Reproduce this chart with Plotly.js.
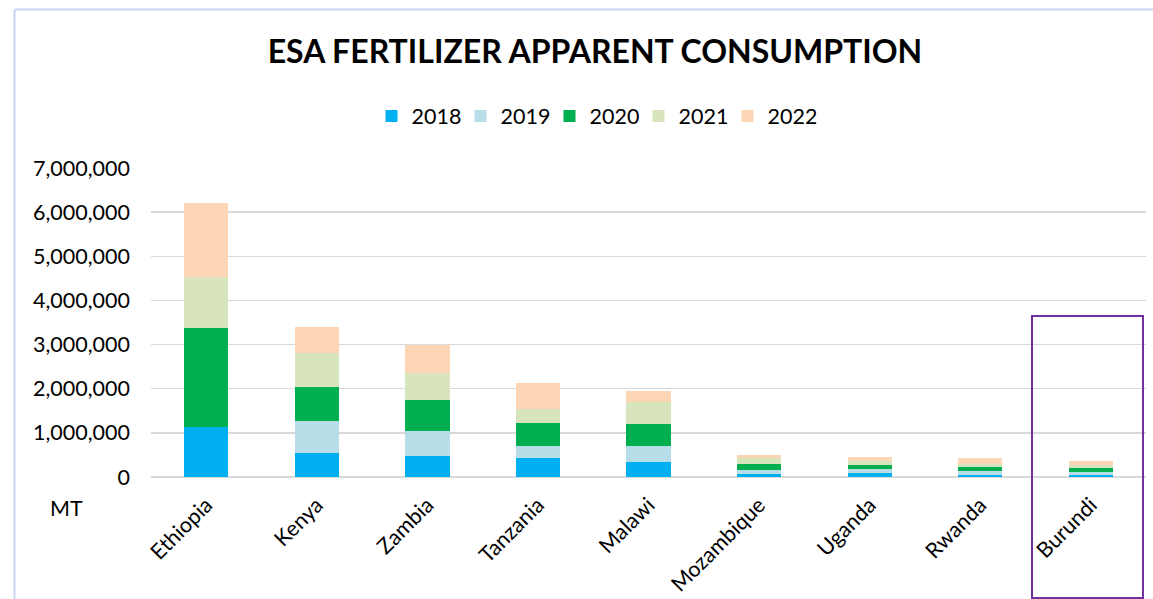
<!DOCTYPE html>
<html>
<head>
<meta charset="utf-8">
<script src="https://cdn.plot.ly/plotly-3.0.1.min.js"></script>
<style>html,body{margin:0;padding:0;background:#fff;}#chart{width:1153px;height:599px;}</style>
</head>
<body>
<div id="chart"></div>
<script>
const countries = ['Ethiopia','Kenya','Zambia','Tanzania','Malawi','Mozambique','Uganda','Rwanda','Burundi'];
const years = ['2018','2019','2020','2021','2022'];
const y2018 = [1130000, 550000, 470000, 440000, 340000, 76000, 91000, 53000, 53000];
const y2019 = [0, 720000, 580000, 260000, 360000, 75000, 90000, 83000, 60000];
const y2020 = [2250000, 780000, 690000, 520000, 510000, 136000, 91000, 98000, 91000];
const y2021 = [1140000, 750000, 610000, 330000, 490000, 136000, 98000, 61000, 68000];
const y2022 = [1690000, 590000, 630000, 580000, 250000, 76000, 84000, 136000, 83000];
const yTicks = [0, 1000000, 2000000, 3000000, 4000000, 5000000, 6000000, 7000000];

const series = [y2018, y2019, y2020, y2021, y2022];
const colors = ['#00B0F0', '#B7DEE8', '#00B050', '#D8E4BC', '#FCD5B4'];
const FONT = 'Lato, "Open Sans", sans-serif';
const FS = 21.5;

const traces = series.map((vals, i) => ({
  type: 'bar',
  name: years[i],
  x: countries,
  y: vals,
  marker: {color: colors[i], line: {width: 0}},
  hoverinfo: 'x+y+name'
}));

const L = 151, R = 7, T = 168, B = 122;
const W = 1153, H = 599;
const pw = W - L - R, ph = H - T - B;
const px = v => (v - L) / pw;
const py = v => (H - B - v) / ph;

const layout = {
  width: W, height: H,
  margin: {l: L, r: R, t: T, b: B, pad: 0},
  paper_bgcolor: '#fff', plot_bgcolor: '#fff',
  barmode: 'stack',
  bargap: 0.6,
  font: {family: FONT, size: FS, color: '#000'},
  title: {
    text: '<b>ESA FERTILIZER APPARENT CONSUMPTION</b>',
    font: {family: FONT, size: 32, color: '#000'},
    x: px(595), xref: 'paper', xanchor: 'center',
    y: 1 - 52 / H, yref: 'container', yanchor: 'middle'
  },
  showlegend: true,
  legend: {
    orientation: 'h', traceorder: 'normal',
    x: px(594), xanchor: 'center', y: py(116), yanchor: 'middle',
    font: {family: FONT, size: FS, color: '#000'},
    itemwidth: 30, entrywidth: 44, bgcolor: 'rgba(0,0,0,0)'
  },
  xaxis: {
    type: 'category',
    tickangle: -45,
    showgrid: false, zeroline: false, showline: false,
    ticks: 'outside', ticklen: 6, tickcolor: 'rgba(0,0,0,0)',
    tickfont: {family: FONT, size: FS, color: '#000'}
  },
  yaxis: {
    range: [0, 7000000],
    tickvals: yTicks,
    tickformat: ',d',
    showgrid: true, gridcolor: '#D9D9D9', gridwidth: 1.5,
    zeroline: true, zerolinecolor: '#D9D9D9', zerolinewidth: 1.5,
    showline: false, ticks: '', ticklabelstandoff: 20,
    tickfont: {family: FONT, size: FS, color: '#000'}
  },
  annotations: [{
    text: 'MT', xref: 'paper', yref: 'paper', x: px(66), y: py(508),
    xanchor: 'center', yanchor: 'middle', showarrow: false,
    font: {family: FONT, size: FS, color: '#000'}
  }],
  shapes: [
    {type: 'rect', xref: 'paper', yref: 'paper', x0: px(1032), x1: px(1143), y0: py(598), y1: py(316),
     line: {color: '#7030A0', width: 2}, fillcolor: 'rgba(0,0,0,0)', layer: 'above'},
    {type: 'line', xref: 'paper', yref: 'paper', x0: px(14.5), x1: px(14.5), y0: py(9.5), y1: py(600),
     line: {color: '#C5D6EE', width: 2}},
    {type: 'line', xref: 'paper', yref: 'paper', x0: px(14.5), x1: px(1160), y0: py(9.5), y1: py(9.5),
     line: {color: '#C5D6EE', width: 2}}
  ]
};

Plotly.newPlot('chart', traces, layout, {displayModeBar: false, staticPlot: true});
</script>
</body>
</html>
